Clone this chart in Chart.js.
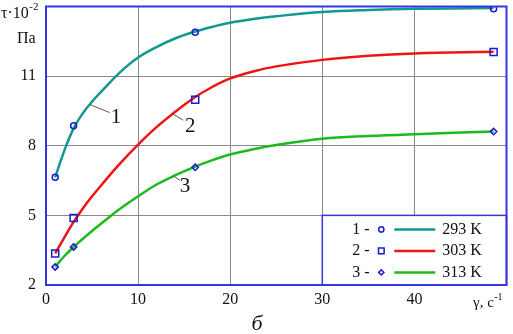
<!DOCTYPE html>
<html>
<head>
<meta charset="utf-8">
<script src="https://cdn.jsdelivr.net/npm/chart.js@4"></script>
<style>
  body { margin: 0; background: #fff; }
  canvas { display: block; }
</style>
</head>
<body>
<canvas id="c" width="513" height="334"></canvas>
<script>
const TEAL = "#12998f";
const RED = "#ee1515";
const GREEN = "#1cba1c";
const MARK = "#1a1ad0";
const FRAME = "#3535e6";
const GRID = "#8a8a8a";
const SERIF = "Liberation Serif";

// measured points (shear rate, 1/s)
const RATE = [1, 3, 16.2, 48.6];
const TAU_293 = [6.64, 8.86, 12.89, 13.9];
const TAU_303 = [3.36, 4.89, 9.98, 12.04];
const TAU_313 = [2.78, 3.64, 7.07, 8.61];

// fitted curves
const FIT_X = [1, 2, 3, 4, 5, 6, 8, 10, 12, 14, 16, 18, 20, 22.5, 25, 30, 35, 40, 48.6];
const FIT_293 = [6.64, 7.8, 8.75, 9.4, 9.9, 10.33, 11.15, 11.8, 12.25, 12.62, 12.9, 13.12, 13.3, 13.46, 13.58, 13.76, 13.85, 13.9, 13.93];
const FIT_303 = [3.36, 4.05, 4.72, 5.3, 5.82, 6.3, 7.22, 8.05, 8.8, 9.45, 10.05, 10.52, 10.9, 11.2, 11.42, 11.7, 11.88, 11.98, 12.05];
const FIT_313 = [2.78, 3.25, 3.64, 3.99, 4.33, 4.65, 5.27, 5.82, 6.33, 6.72, 7.07, 7.37, 7.62, 7.85, 8.03, 8.3, 8.42, 8.5, 8.61];

const X_TICKS = [0, 10, 20, 30, 40, 50];
const Y_TICKS = [2, 5, 8, 11, 14];

const SERIES = [
  { n: "1", label: "293 K", color: TEAL, style: "circle", r: 3, fit: FIT_293, pts: TAU_293 },
  { n: "2", label: "303 K", color: RED, style: "rect", r: 5, fit: FIT_303, pts: TAU_303 },
  { n: "3", label: "313 K", color: GREEN, style: "rectRot", r: 3.2, fit: FIT_313, pts: TAU_313 },
];

const pairs = (xs, ys) => xs.map((x, i) => ({ x, y: ys[i] }));

const datasets = [];
SERIES.forEach((s) => {
  datasets.push({
    data: pairs(FIT_X, s.fit),
    borderColor: s.color,
    borderWidth: 2.5,
    pointRadius: 0,
    tension: 0.4,
    order: 2,
  });
  datasets.push({
    data: pairs(RATE, s.pts),
    showLine: false,
    pointStyle: s.style,
    pointRadius: s.r,
    pointBorderColor: MARK,
    pointBackgroundColor: "rgba(0,0,0,0)",
    pointBorderWidth: 1.5,
    order: 1,
  });
});

// leaders: [curve x, curve y, end x, end y, text x, text y]
const LEADERS = [
  ["1", 4.75, 9.78, 6.9, 9.43, 7.6, 9.21],
  ["2", 13.65, 9.4, 14.9, 9.1, 15.65, 8.81],
  ["3", 13.85, 6.7, 14.57, 6.5, 15.1, 6.25],
];

const font = (size, style) => `${style || ""} ${size}px "${SERIF}"`;

// text with a raised exponent right after it
function withExp(ctx, base, exp, x, y, size, expSize, rise) {
  ctx.font = font(size);
  ctx.fillText(base, x, y);
  const w = ctx.measureText(base).width;
  ctx.font = font(expSize);
  ctx.fillText(exp, x + w + 0.5, y - rise);
}

const extras = {
  id: "extras",
  afterDraw(chart) {
    const { ctx, chartArea: a, scales } = chart;
    const X = (v) => scales.x.getPixelForValue(v);
    const Y = (v) => scales.y.getPixelForValue(v);
    ctx.save();

    // curve labels
    LEADERS.forEach(([t, x1, y1, x2, y2, tx, ty]) => {
      ctx.strokeStyle = "#555";
      ctx.lineWidth = 1;
      ctx.beginPath();
      ctx.moveTo(X(x1), Y(y1));
      ctx.lineTo(X(x2), Y(y2));
      ctx.stroke();
      ctx.fillStyle = "#111";
      ctx.font = font(21);
      ctx.textAlign = "center";
      ctx.textBaseline = "middle";
      ctx.fillText(t, X(tx), Y(ty));
    });

    // legend box
    const lx = X(30), ly = Y(5);
    ctx.fillStyle = "#fff";
    ctx.fillRect(lx, ly, a.right - lx, a.bottom - ly);
    ctx.strokeStyle = FRAME;
    ctx.lineWidth = 1.5;
    ctx.strokeRect(lx, ly, a.right - lx, a.bottom - ly);
    ctx.font = font(16);
    ctx.textBaseline = "middle";
    SERIES.forEach((s, i) => {
      const y = ly + 14 + i * 21.5;
      ctx.fillStyle = "#111";
      ctx.textAlign = "left";
      ctx.fillText(s.n + " -", lx + 30, y);
      ctx.fillStyle = "#fff";
      ctx.strokeStyle = MARK;
      ctx.lineWidth = 1.5;
      Chart.helpers.drawPoint(ctx, { pointStyle: s.style, radius: s.style === "rect" ? 4 : 2.6, borderWidth: 1.5 }, lx + 59, y);
      ctx.strokeStyle = s.color;
      ctx.lineWidth = 2.5;
      ctx.beginPath();
      ctx.moveTo(lx + 72, y);
      ctx.lineTo(lx + 113, y);
      ctx.stroke();
      ctx.fillStyle = "#111";
      ctx.fillText(s.label, lx + 120, y);
    });

    // frame
    ctx.strokeStyle = FRAME;
    ctx.lineWidth = 2;
    ctx.strokeRect(a.left, a.top, a.right - a.left, a.bottom - a.top);

    // axis titles
    ctx.fillStyle = "#111";
    ctx.textAlign = "left";
    ctx.textBaseline = "alphabetic";
    withExp(ctx, "τ·10", "-2", 1, 18, 16, 11, 8);
    ctx.font = font(16);
    ctx.fillText("Па", 17, 43);
    withExp(ctx, "γ, c", "-1", 473, 307, 15, 10, 7);

    ctx.font = font(22, "italic");
    ctx.textAlign = "center";
    ctx.fillText("б", 257, 330);
    ctx.restore();
  },
};

const gridColor = (edge) => (c) => (c.tick && edge.includes(c.tick.value) ? "rgba(0,0,0,0)" : GRID);
const noPad = (s) => { s.paddingTop = 0; s.paddingBottom = 0; s.paddingLeft = 0; s.paddingRight = 0; };

new Chart(document.getElementById("c"), {
  type: "line",
  data: { datasets },
  plugins: [extras],
  options: {
    responsive: false,
    animation: false,
    layout: { padding: { top: 6, right: 1, left: 0, bottom: 0 } },
    plugins: { legend: { display: false }, tooltip: { enabled: false } },
    scales: {
      x: {
        type: "linear",
        min: 0,
        max: 50,
        afterBuildTicks: (s) => { s.ticks = X_TICKS.map((value) => ({ value })); },
        afterFit: (s) => { s.height = 49; noPad(s); },
        ticks: {
          color: "#111",
          font: { family: SERIF, size: 16 },
          padding: 5,
          maxRotation: 0,
          callback: (v) => (v === 50 ? "" : v),
        },
        grid: { color: gridColor([0, 50]), lineWidth: 1, drawTicks: false },
        border: { display: false },
      },
      y: {
        min: 2,
        max: 14,
        afterBuildTicks: (s) => { s.ticks = Y_TICKS.map((value) => ({ value })); },
        afterFit: (s) => { s.width = 46; noPad(s); },
        ticks: {
          color: "#111",
          font: { family: SERIF, size: 16 },
          padding: 10,
          callback: (v) => (v === 14 ? "" : v),
        },
        grid: { color: gridColor([2, 14]), lineWidth: 1, drawTicks: false },
        border: { display: false },
      },
    },
  },
});
</script>
</body>
</html>
